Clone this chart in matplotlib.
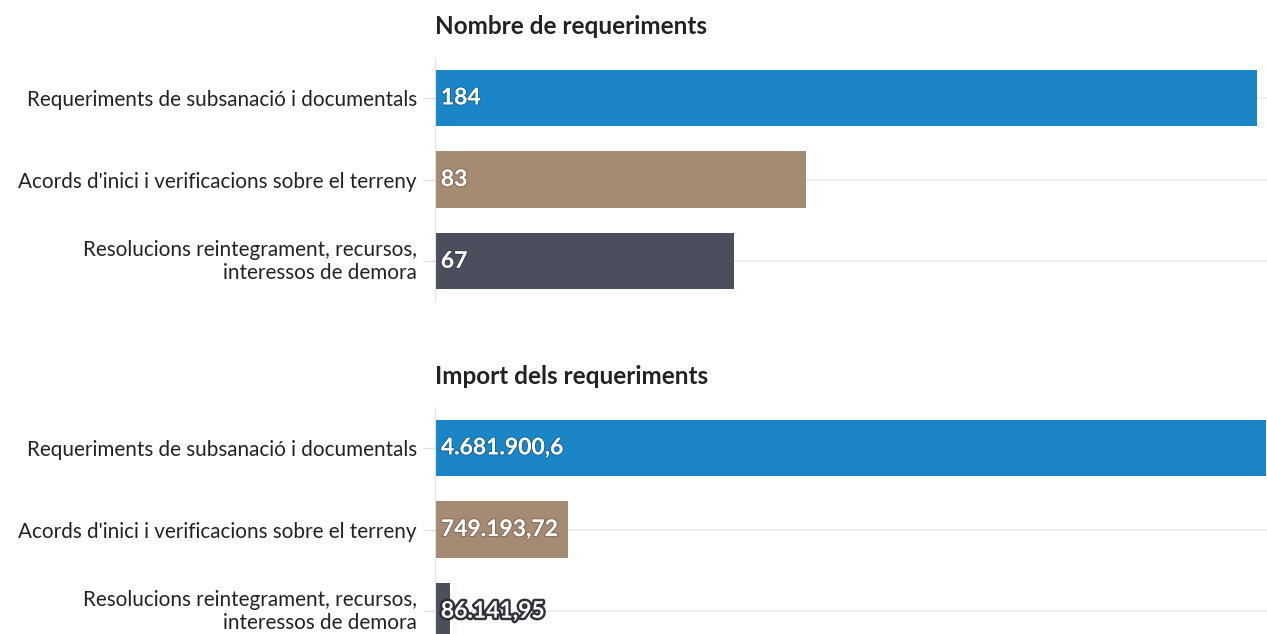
import matplotlib.pyplot as plt
import matplotlib.patheffects as pe
from matplotlib.transforms import ScaledTranslation

plt.rcParams['font.family'] = ['Lato', 'DejaVu Sans']

categories = ["Requeriments de subsanació i documentals",
              "Acords d'inici i verificacions sobre el terreny",
              "Resolucions reintegrament, recursos,\ninteressos de demora"]
nombre = [184, 83, 67]
nombre_labels = ["184", "83", "67"]
imports = [4681900.6, 749193.72, 86141.95]
import_labels = ["4.681.900,6", "749.193,72", "86.141,95"]
colors = ["#1a86c8", "#a68b73", "#4b4f5d"]

W, H = 1267, 634
fig = plt.figure(figsize=(W / 100, H / 100), dpi=100)


def panel(top_px, title, values, labels, xmax):
    band = 81.7
    ax = fig.add_axes([435 / W, 1 - (top_px + 3 * band) / H, (W - 435) / W, 3 * band / H])
    y = list(range(len(values)))
    ax.barh(y, values, height=0.69, color=colors, zorder=2)
    ax.set_ylim(2.5, -0.5)
    ax.set_xlim(0, xmax)
    ax.set_yticks(y)
    ax.set_yticklabels(categories, fontsize=14.9, color="#222222", ha="right", linespacing=1.2)
    ax.tick_params(axis="y", length=9, color="#dddddd", pad=4)
    # two-line label sits a little above the bar centre
    lab = ax.get_yticklabels()[2]
    lab.set_transform(lab.get_transform() + ScaledTranslation(0, 3.5 / 100, fig.dpi_scale_trans))
    ax.set_xticks([])
    for yy in y:
        ax.axhline(yy, color="#ebebeb", lw=1.2, zorder=1)
    for s in ["top", "right", "bottom"]:
        ax.spines[s].set_visible(False)
    ax.spines["left"].set_color("#e3e3e3")
    for yy, v, lab in zip(y, values, labels):
        small = v < xmax * 0.1
        eff = [pe.withStroke(linewidth=3.5 if small else 1.5,
                             foreground="#2f323b" if small else "#00000040")]
        ax.text(xmax * 0.007, yy, lab, color="white", fontsize=16.5, fontweight="bold",
                va="center", ha="left", zorder=3, path_effects=eff)
    fig.text(435 / W, 1 - (top_px - 31) / H, title, fontsize=17.5, fontweight="bold",
             color="#222222", ha="left", va="center")
    return ax


panel(57, "Nombre de requeriments", nombre, nombre_labels, 186.2)
panel(407, "Import dels requeriments", imports, import_labels, 4690000)

fig.savefig("out.png", dpi=100)
